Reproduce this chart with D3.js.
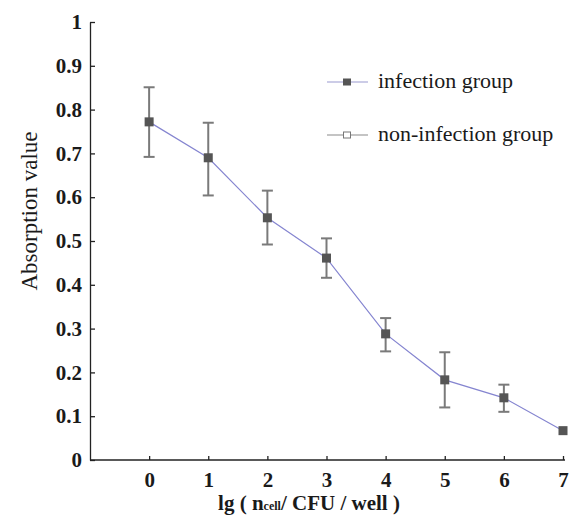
<!DOCTYPE html>
<html>
<head>
<meta charset="utf-8">
<script src="https://cdn.jsdelivr.net/npm/d3@7"></script>
</head>
<body style="margin:0">
<svg width="573" height="520"></svg>
<script>
const xValues = [0, 1, 2, 3, 4, 5, 6, 7];
const infection = [0.772, 0.690, 0.553, 0.461, 0.288, 0.183, 0.142, 0.067];
const errLow = [0.692, 0.604, 0.492, 0.416, 0.248, 0.120, 0.110, 0.067];
const errHigh = [0.851, 0.770, 0.615, 0.506, 0.324, 0.246, 0.172, 0.067];
const yTicks = [0, 0.1, 0.2, 0.3, 0.4, 0.5, 0.6, 0.7, 0.8, 0.9, 1];
const seriesNames = ["infection group", "non-infection group"];

const width = 573, height = 520;
const margin = { top: 22, right: 10, bottom: 60, left: 90 };
const svg = d3.select("svg");

const x = d3.scaleLinear().domain([-1, 7]).range([margin.left, 563]);
const y = d3.scaleLinear().domain([0, 1]).range([height - margin.bottom, margin.top]);

function styleText(sel, size, weight) {
    sel.style("font-family", "Liberation Serif").style("font-size", size + "px")
       .style("font-weight", weight).attr("fill", "#1a1a1a");
}

// axes with inward ticks
const yAxis = svg.append("g")
    .attr("transform", `translate(${margin.left},0)`)
    .call(d3.axisLeft(y).tickValues(yTicks).tickSizeInner(-5).tickSizeOuter(0)
        .tickPadding(8).tickFormat(d => d === 0 || d === 1 ? d3.format("d")(d) : d3.format(".1f")(d)));
yAxis.attr("font-family", null).attr("font-size", null);
yAxis.select(".domain").attr("stroke", "#222").attr("stroke-width", 1.3);
yAxis.selectAll("line").attr("stroke", "#222").attr("stroke-width", 1.3);
styleText(yAxis.selectAll("text"), 21, "bold");

const xAxis = svg.append("g")
    .attr("transform", `translate(0,${height - margin.bottom})`)
    .call(d3.axisBottom(x).tickValues(xValues).tickSizeInner(-4).tickSizeOuter(0)
        .tickPadding(12).tickFormat(d3.format("d")));
xAxis.attr("font-family", null).attr("font-size", null);
xAxis.select(".domain").attr("stroke", "#222").attr("stroke-width", 1.3)
    .attr("d", `M${margin.left},0H565`);
xAxis.selectAll("line").attr("stroke", "#222").attr("stroke-width", 1.3);
styleText(xAxis.selectAll("text"), 21, "bold");

// error bars
const capW = 11;
xValues.forEach((xv, i) => {
    if (errHigh[i] - errLow[i] < 0.005) return;
    const g = svg.append("g").attr("stroke", "#7a7a7a").attr("stroke-width", 2);
    g.append("line").attr("x1", x(xv)).attr("x2", x(xv)).attr("y1", y(errLow[i])).attr("y2", y(errHigh[i]));
    g.append("line").attr("x1", x(xv) - capW / 2).attr("x2", x(xv) + capW / 2)
        .attr("y1", y(errHigh[i])).attr("y2", y(errHigh[i]));
    g.append("line").attr("x1", x(xv) - capW / 2).attr("x2", x(xv) + capW / 2)
        .attr("y1", y(errLow[i])).attr("y2", y(errLow[i]));
});

// line
const line = d3.line().x((d, i) => x(xValues[i])).y(d => y(d));
svg.append("path")
    .datum(infection)
    .attr("fill", "none")
    .attr("stroke", "#8585d0")
    .attr("stroke-width", 1.2)
    .attr("d", line);

// markers
svg.selectAll(".pt")
    .data(infection)
    .enter()
    .append("rect")
    .attr("x", (d, i) => x(xValues[i]) - 4.5)
    .attr("y", d => y(d) - 4.5)
    .attr("width", 9)
    .attr("height", 9)
    .attr("fill", "#555");

// legend
const legend = svg.append("g").attr("transform", "translate(327,82)");
seriesNames.forEach((name, i) => {
    const g = legend.append("g").attr("transform", `translate(0,${i * 53})`);
    g.append("line").attr("x1", 0).attr("x2", 41).attr("y1", 0).attr("y2", 0)
        .attr("stroke", i === 0 ? "#9a9ad0" : "#8a8a8a").attr("stroke-width", 1.2);
    if (i === 0) {
        g.append("rect").attr("x", 16).attr("y", -3.5).attr("width", 8).attr("height", 7).attr("fill", "#555");
    } else {
        g.append("rect").attr("x", 16.5).attr("y", -3).attr("width", 7).attr("height", 6)
            .attr("fill", "#fff").attr("stroke", "#777").attr("stroke-width", 1);
    }
    const t = g.append("text").attr("x", 51).attr("y", 6).text(name);
    styleText(t, 22, "normal");
});

// axis titles
const yt = svg.append("text")
    .attr("transform", "translate(37,211) rotate(-90)")
    .attr("text-anchor", "middle")
    .text("Absorption value");
styleText(yt, 23, "normal");

const xt = svg.append("text")
    .attr("x", 309)
    .attr("y", 510)
    .attr("text-anchor", "middle");
styleText(xt, 21, "bold");
xt.append("tspan").text("lg ( n");
xt.append("tspan").style("font-size", "12px").text("cell");
xt.append("tspan").text("/ CFU / well )");
</script>
</body>
</html>
